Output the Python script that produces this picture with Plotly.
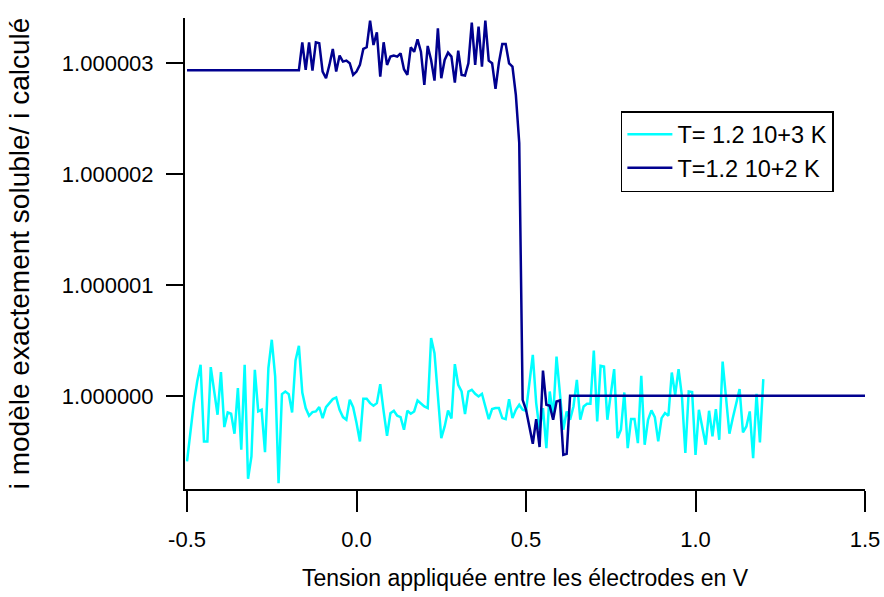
import plotly.graph_objects as go

# ---------------- data ----------------
# Voltage sweep for the T = 1.2e3 K run: -0.50 V to 1.20 V in 0.01 V steps
cyan_x = [round(-0.5 + 0.01 * i, 2) for i in range(171)]
# ratio deviation from 1, in units of 1e-6
cyan_ppm = [
    -0.592, -0.306, -0.066, 0.129, 0.279, -0.411, -0.411, 0.258, 0.054, -0.171,
    0.213, -0.282, -0.150, -0.162, -0.342, 0.069, -0.486, 0.279, -0.748, -0.547,
    0.234, -0.141, -0.126, -0.508, 0.249, 0.505, 0.174, -0.787, 0.015, 0.039,
    0.015, -0.150, 0.318, 0.450, 0.030, -0.111, -0.180, -0.147, -0.141, -0.102,
    -0.201, -0.102, -0.066, -0.030,
    -0.015, -0.126, -0.192, -0.216, -0.036, -0.102, -0.246, -0.411, -0.027, -0.027,
    -0.066, -0.090, -0.066, 0.105, -0.141, -0.360, -0.156, -0.135, -0.180, -0.192,
    -0.306, -0.135, -0.162, -0.141, -0.042, -0.066, -0.096, -0.111, 0.520, 0.384,
    -0.006, -0.381, -0.276, -0.132, -0.204, 0.285, 0.099, 0.039, -0.165, 0.039,
    0.054, 0.018, -0.006,
    0.018, -0.096, -0.210, -0.120, -0.111, -0.111, -0.201, -0.210, -0.030, -0.201,
    -0.126, -0.081, -0.126,
    -0.135, 0.099, 0.369, -0.066, -0.306, -0.111, -0.471, 0.039, -0.186, 0.354,
    0.024, -0.306, -0.141, -0.216, -0.096, 0.144, -0.216, -0.096, -0.072, -0.072,
    0.408, -0.231, 0.270, 0.264, -0.216, 0.030, 0.240, -0.381, -0.306, 0.030,
    -0.471, -0.210, -0.210, -0.426, 0.180, -0.441, -0.216, -0.132, -0.192, -0.411,
    -0.201, -0.156, -0.180, 0.210, 0.009, 0.240, -0.006, -0.516, 0.039, 0.033,
    -0.532, -0.126, -0.276, -0.441, -0.135, -0.366, -0.120, -0.396, 0.309, -0.006,
    -0.342, -0.201, -0.081, 0.060, -0.330, -0.276, -0.141, -0.562, 0.018, -0.420,
    0.150,
]

# T = 1.2e2 K run: flat start, noisy sweep -0.17 V .. 0.63 V (0.01 V steps), flat end
blue_x = [-0.5] + [round(-0.17 + 0.01 * i, 2) for i in range(81)] + [1.5]
blue_ppm = [2.934] + [
    2.934, 3.186, 2.937, 3.186, 2.931, 3.186, 3.177, 2.922, 2.862, 2.982,
    3.126, 2.922, 3.066, 3.012, 3.021, 2.997, 2.892, 2.922, 2.982, 3.126,
    3.141, 3.381, 3.162, 3.276, 2.877, 3.186, 2.982, 3.057, 3.066, 3.057,
    3.087, 2.943, 2.892, 3.141,
    3.100, 3.213, 3.102, 2.802, 3.153, 3.027, 2.841, 3.312, 2.862, 3.027,
    3.093, 3.057, 2.823, 3.111, 2.892, 2.886, 2.997, 3.363, 2.982, 3.327,
    2.967, 3.381, 3.021, 2.997, 2.766, 3.003, 3.171, 3.171, 2.997, 2.967,
    2.712, 2.279, -0.036, -0.126,
    -0.276, -0.432, -0.210, -0.462, 0.228, -0.081, -0.090, -0.216, -0.051, -0.042,
    -0.532, -0.523, 0.0,
] + [0.0]

series_names = ["T= 1.2 10+3 K", "T=1.2 10+2 K"]
x_tick_vals = [-0.5, 0.0, 0.5, 1.0, 1.5]
x_tick_text = ["-0.5", "0.0", "0.5", "1.0", "1.5"]
y_tick_vals = [1.0, 1.000001, 1.000002, 1.000003]
y_tick_text = ["1.000000", "1.000001", "1.000002", "1.000003"]

# convert deviations (units of 1e-6) to the plotted ratio
cyan_y = [1.0 + v * 1e-6 for v in cyan_ppm]
blue_y = [1.0 + v * 1e-6 for v in blue_ppm]

FONT = "Liberation Sans, Arial, Helvetica, sans-serif"

fig = go.Figure()
fig.add_trace(go.Scatter(x=cyan_x, y=cyan_y, mode="lines", name=series_names[0],
                         line=dict(color="#00FFFF", width=2.5)))
fig.add_trace(go.Scatter(x=blue_x, y=blue_y, mode="lines", name=series_names[1],
                         line=dict(color="#00008F", width=2.5)))

axis_common = dict(showline=True, linecolor="black", linewidth=2, ticks="outside",
                   tickwidth=2, tickcolor="black", showgrid=False, zeroline=False,
                   automargin=False, ticklabeloverflow="allow",
                   tickfont=dict(family=FONT, size=22, color="black"))

fig.update_layout(
    width=884, height=597,
    margin=dict(l=185, r=19, t=18, b=108, autoexpand=False),
    paper_bgcolor="white", plot_bgcolor="white",
    font=dict(family=FONT, color="black"),
    xaxis=dict(range=[-0.506, 1.5], tickmode="array", tickvals=x_tick_vals,
               ticktext=x_tick_text, ticklen=21, ticklabelstandoff=9,
               title=dict(text="Tension appliquée entre les électrodes en V",
                          font=dict(family=FONT, size=23, color="black"), standoff=18),
               **axis_common),
    yaxis=dict(range=[0.99999916, 1.000003405], tickmode="array", tickvals=y_tick_vals,
               ticktext=y_tick_text, ticklen=17, ticklabelstandoff=8,
               title=dict(text="i modèle exactement soluble/ i calculé",
                          font=dict(family=FONT, size=28, color="black"), standoff=24),
               **axis_common),
    legend=dict(x=0.641, y=0.8025, xanchor="left", yanchor="top",
                bgcolor="white", bordercolor="black", borderwidth=1.5,
                font=dict(family=FONT, size=23.5, color="black"),
                itemwidth=45, traceorder="normal"),
    showlegend=True,
)

# remove the default page margin so the 884x597 figure fills the window exactly
fig.write_html("out.html",
               config={"displayModeBar": False, "staticPlot": True},
               post_script="document.body.style.margin='0';document.body.style.overflow='hidden';")
